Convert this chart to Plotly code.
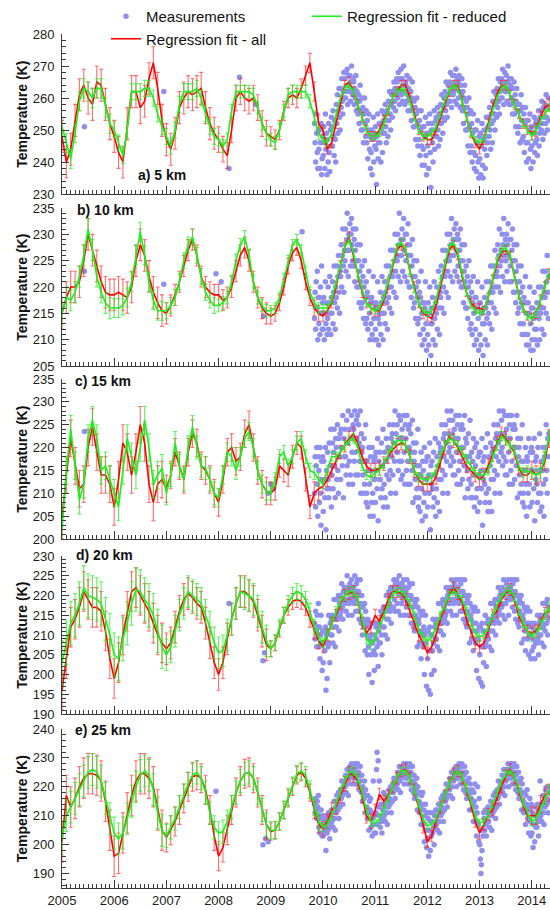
import plotly.graph_objects as go

FONT = "Liberation Sans, Arial, sans-serif"
MEAS_COLOR = "rgb(143,143,240)"
RED = "rgb(255,0,0)"
RED_ERR = "rgba(255,30,30,0.65)"
GREEN = "rgb(30,240,30)"
GREEN_ERR = "rgba(30,235,30,0.7)"

FIT_START = 2005.0          # first monthly fit value (January 2005)
MEAS_START = 2009 + 10 / 12  # first month of dense measurements (Nov 2009)
X_RANGE = [2005.0, 2014.35]
YEAR_TICKS = list(range(2005, 2015))

# ---------------- panel a) 5 km ----------------
RED_A = [
    [248, 240, 244, 253, 261, 264, 260, 258, 265, 264, 258, 252],
    [248, 243, 240, 252, 262, 262, 257, 259, 266, 271, 263, 253],
    [247, 244, 249, 257, 260, 262, 261, 262, 263, 257, 252, 249],
    [247, 244, 242, 250, 260, 262, 260, 259, 260, 257, 252, 249],
    [248, 247, 250, 256, 260, 261, 260, 263, 267, 271, 262, 252],
    [250, 244, 246, 252, 259, 264, 265, 262, 258, 254, 250, 248],
    [248, 250, 253, 256, 260, 262, 264, 264, 260, 255, 250, 248],
    [247, 247, 250, 254, 258, 262, 264, 264, 259, 254, 249, 246],
    [244, 247, 252, 257, 261, 264, 264, 261, 258, 255, 252, 250],
    [249, 250, 254, 257, 258],
]
GREEN_A = [
    [251, 246, 241, 249, 259, 263, 262, 260, 263, 263, 257, 252],
    [250, 246, 242, 250, 262, 262, 262, 263, 263, 260, 255, 251],
    [248, 245, 250, 258, 262, 262, 262, 263, 260, 255, 251, 248],
    [247, 245, 247, 256, 262, 262, 262, 262, 261, 257, 252, 249],
    [247, 246, 250, 256, 261, 262, 262, 262, 262, 259, 254, 249],
    [247, 246, 249, 255, 260, 263, 264, 262, 258, 254, 250, 248],
    [248, 249, 252, 256, 260, 262, 263, 262, 259, 254, 250, 248],
    [248, 249, 251, 255, 259, 262, 264, 263, 259, 254, 249, 247],
    [246, 247, 251, 256, 260, 263, 264, 261, 258, 255, 252, 250],
    [248, 250, 253, 255, 257],
]
RED_ERR_A = [5, 5, 5, 4, 3, 1.5, 1.5, 1.5, 1.5, 2]
GREEN_ERR_A = [3, 2.5, 2.5, 2, 2, 1, 1, 1, 1, 1.2]
MEAS_A = [
    "252 246 240 255 249 243 238 250", "244 250 238 246 252 236 241 248",
    "242 251 246 238 255 244 249 236", "247 240 252 243 237 250 245 254",
    "251 245 256 248 242 253 247 240", "258 252 261 249 256 263 254 250",
    "263 257 266 259 255 262 268 260", "266 260 268 262 269 258 264 267",
    "262 267 259 265 270 263 261 266", "265 258 263 260 267 256 262 259",
    "255 261 252 259 264 256 250 260", "250 257 246 255 260 252 248 256",
    "246 253 241 250 255 244 248 238", "243 250 236 247 254 240 249 245",
    "251 244 233 248 255 241 246 252", "246 252 240 250 256 243 249 253",
    "255 249 258 251 246 256 253 248", "259 253 262 255 250 258 261 254",
    "262 257 265 259 263 256 261 266", "265 260 268 263 258 266 262 269",
    "261 266 259 264 270 262 258 265", "264 259 267 261 256 263 260 266",
    "256 262 253 260 265 257 251 259", "251 257 247 255 260 252 245 256",
    "247 253 242 250 256 245 239 251", "244 251 239 248 254 242 236 249",
    "245 252 238 249 255 243 232 250", "252 246 240 250 256 244 248 253",
    "254 248 257 250 245 255 252 247", "258 252 261 254 249 257 260 253",
    "262 256 265 258 254 261 264 259", "265 259 268 262 257 264 267 261",
    "262 267 259 265 269 263 258 266", "265 260 267 262 257 264 261 266",
    "256 262 252 260 264 257 250 259", "250 257 245 255 260 251 243 256",
    "245 252 240 249 255 243 238 250", "242 250 237 246 253 240 235 248",
    "241 249 236 245 252 239 235 247", "250 244 238 248 254 242 246 251",
    "254 248 257 250 244 255 252 246", "259 253 262 255 250 258 261 254",
    "263 257 266 259 255 262 265 260", "266 260 269 263 258 265 268 262",
    "262 267 259 265 270 263 258 266", "264 258 266 260 255 263 259 265",
    "255 261 251 259 263 256 249 258", "251 258 246 256 261 253 247 257",
    "248 255 243 252 257 246 240 253", "246 253 241 250 255 244 238 251",
    "245 251 240 249 254 243 246 252", "253 247 242 251 256 245 249 254",
    "256 250 259 252 247 257 254 249", "258 252 261 254 250 257 260 253",
]
EARLY_X_A = [2005.43, 2006.95, 2008.20, 2008.40, 2008.72]
EARLY_Y_A = [251, 262, 238, 266.5, 258]

# ---------------- panel b) 10 km ----------------
RED_B = [
    [215, 218, 220, 220, 221, 225, 230, 227, 224, 221, 219, 218.5],
    [218.5, 219, 218.5, 218, 220, 225, 228, 226, 222, 219, 217, 215.5],
    [215, 216.5, 218.5, 221, 224, 227, 229, 226, 222, 220, 219, 218.5],
    [218.5, 217.5, 218, 220, 223, 226, 227.5, 225, 221, 218, 216, 215],
    [214.5, 215, 217, 220, 224, 226.5, 227.5, 225, 221, 218, 216, 215],
    [214.5, 215.5, 217, 220, 224, 227.5, 229.5, 226, 222, 219, 217, 216],
    [215.5, 215.5, 217.5, 220.5, 224, 227, 228, 227, 223, 220, 217, 215],
    [214.5, 214, 216.5, 220, 224, 227, 228, 226, 222, 219, 217, 216],
    [216, 215.5, 218, 221.5, 224.5, 226.5, 227, 226, 222, 218.5, 216, 214.5],
    [214, 215, 217.5, 220, 222.5],
]
GREEN_B = [
    [215, 218, 217.5, 219, 222, 226, 231, 227, 222, 219, 217, 216],
    [216, 216, 216.5, 218, 221, 226, 230.5, 226, 221, 217.5, 215.5, 215.5],
    [215.5, 216.5, 218, 221, 225, 228, 229.5, 226, 222, 219, 217.5, 216.5],
    [216.5, 217, 218, 221, 225, 228, 229.5, 226, 221, 218, 216.5, 215.5],
    [215.5, 216, 218, 221.5, 225, 228, 229, 227, 223, 219, 217, 216],
    [216, 216, 217.5, 220.5, 224, 227.5, 229, 226.5, 222.5, 219.5, 217, 216],
    [215.5, 216, 218, 221, 224.5, 227.5, 228.5, 227, 223, 219.5, 217, 215.5],
    [215, 215.5, 217.5, 221, 224.5, 227.5, 228.5, 226.5, 222.5, 219, 216.5, 215.5],
    [215, 215.5, 218, 221.5, 225, 227, 227.5, 226, 222, 218.5, 216, 214.5],
    [214, 215, 217.5, 220, 222.5],
]
RED_ERR_B = [3, 3, 2, 2, 1.5, 1, 1, 0.8, 0.8, 1]
GREEN_ERR_B = [2, 1.8, 1.5, 1.2, 1, 0.7, 0.6, 0.6, 0.6, 0.8]
MEAS_B = [
    "214 219 212 221 216 223 210 218", "213 218 211 220 215 224 212 217",
    "212 218 210 215 221 213 217 211", "214 220 212 217 222 215 211 218",
    "215 221 213 219 224 217 212 220", "218 224 216 222 226 219 215 223",
    "222 228 220 226 231 224 219 227", "225 231 223 229 234 227 222 230",
    "227 232 224 230 233 228 225 231", "224 229 221 227 231 225 220 228",
    "220 225 217 223 228 221 216 224", "217 222 214 220 225 218 213 221",
    "214 219 212 218 223 215 210 217", "213 218 211 217 222 214 210 216",
    "212 217 210 216 221 214 209 215", "213 219 211 217 222 215 210 218",
    "215 221 213 219 224 217 212 220", "218 224 216 222 227 220 215 223",
    "222 227 219 225 230 223 218 226", "225 230 222 228 234 226 221 229",
    "226 231 223 229 233 227 222 230", "225 230 221 228 232 226 220 228",
    "220 226 218 224 229 222 216 225", "217 222 214 220 225 218 213 221",
    "214 219 211 218 223 215 209 217", "212 217 210 216 221 213 208 215",
    "211 217 209 215 220 213 207 216", "213 218 210 216 221 214 209 217",
    "215 220 212 218 223 216 211 219", "218 224 216 222 227 220 215 223",
    "222 227 219 225 230 223 218 226", "225 230 222 228 233 226 221 229",
    "226 231 223 229 232 227 222 230", "224 229 221 227 231 225 220 228",
    "220 225 217 223 228 221 216 224", "216 222 214 220 225 218 212 221",
    "213 219 211 217 222 215 209 218", "212 218 210 216 221 214 208 217",
    "211 217 209 215 220 213 207 216", "213 218 210 216 221 214 209 217",
    "215 221 213 219 224 217 212 220", "219 224 216 222 227 220 215 223",
    "222 228 220 226 231 224 219 227", "225 230 222 228 233 226 221 229",
    "225 230 223 228 232 226 221 229", "224 229 221 227 231 225 219 228",
    "219 225 217 223 228 221 215 224", "216 221 213 219 224 217 211 220",
    "213 218 211 217 222 215 209 217", "211 217 209 215 220 213 208 216",
    "210 216 208 214 219 212 210 215", "212 217 209 215 220 214 210 216",
    "215 220 212 218 223 216 211 219", "218 223 215 221 226 219 214 222",
]
EARLY_X_B = [2005.43, 2006.95, 2007.95, 2008.05, 2008.86, 2009.60]
EARLY_Y_B = [223, 220.5, 222.5, 221, 214.5, 230.5]

# ---------------- panel c) 15 km ----------------
RED_C = [
    [204, 214, 222, 216, 211, 212, 220, 224.5, 219, 214, 214, 212],
    [207, 213, 221, 219, 214, 219, 225, 221, 212, 208, 212, 213],
    [211, 214, 219, 216, 213, 219, 223, 221, 216, 215, 213, 210],
    [208, 213, 219, 220, 217, 218, 223, 225, 220, 215, 212, 210.5],
    [210, 211, 216, 215, 214, 218, 221, 220, 213, 207, 210, 211],
    [211.5, 213, 215, 217, 219, 220.5, 222, 223, 221, 218, 216, 215],
    [215, 215.5, 216.5, 218, 219.5, 220.5, 221, 220.5, 218, 215, 213, 212],
    [212, 212, 213.5, 217, 220, 222.5, 221.5, 220, 218, 216, 215, 214],
    [213, 214, 216, 218.5, 221, 223, 222, 220.5, 219, 215.5, 214, 214],
    [215, 214, 214.5, 217, 222],
]
GREEN_C = [
    [202, 215, 224, 216, 208.5, 212, 222, 226, 222, 215, 216, 213],
    [210, 207, 215, 222, 218, 214, 220, 226, 220, 212, 214, 215.5],
    [210, 214, 221, 216, 213, 220, 224.5, 220, 216, 215.5, 213, 210],
    [209, 214, 219, 218, 215, 218, 222, 223.5, 220, 215, 212, 210.5],
    [210, 213, 218, 219, 216, 218, 221, 222, 218, 215, 214.5, 213],
    [212, 215, 218, 218, 219, 220.5, 221.5, 222, 220, 216, 214, 213.5],
    [214.5, 215, 216.5, 218.5, 220.5, 221.5, 221.5, 220.5, 218, 215, 213.5, 213],
    [213, 213.5, 215, 218, 220.5, 222, 221.5, 220.5, 219, 217.5, 216, 214.5],
    [214, 214, 215, 218, 220.5, 222.5, 221.5, 220.5, 219.5, 216, 214.5, 215],
    [214.5, 214, 214.5, 218, 222.5],
]
RED_ERR_C = [4, 4, 3, 3, 2.5, 1.5, 1.5, 1.5, 1.5, 2]
GREEN_ERR_C = [3, 3, 2.5, 2, 1.5, 1, 1, 1, 1, 1.2]
MEAS_C = [
    "210 218 207 216 220 212 205 218", "215 208 220 210 203 217 213 218",
    "206 217 213 209 220 202 215 211", "219 213 209 221 211 216 224 207",
    "214 221 211 219 224 216 209 222", "220 213 225 215 210 222 218 223",
    "213 224 220 216 227 209 222 218", "224 218 214 226 216 221 228 212",
    "217 224 214 222 227 219 212 225", "224 217 228 219 214 226 222 227",
    "214 225 221 217 228 210 223 219", "220 214 210 222 212 217 225 208",
    "210 217 207 215 220 212 205 218", "215 208 220 210 205 217 213 218",
    "208 219 215 211 222 204 217 213", "219 213 209 221 211 216 224 207",
    "212 219 209 217 222 214 207 220", "220 213 225 215 210 222 218 223",
    "214 225 221 217 228 210 223 219", "225 219 215 227 217 222 226 213",
    "217 224 214 222 227 219 212 225", "222 215 227 217 212 224 220 225",
    "212 223 219 215 226 208 221 217", "219 213 209 221 211 216 224 207",
    "209 216 206 214 219 211 204 217", "215 208 220 210 205 217 213 218",
    "207 218 214 210 221 202 216 212", "217 211 207 219 209 214 222 205",
    "211 218 208 216 221 213 206 219", "220 213 225 215 210 222 218 223",
    "214 225 221 217 228 210 223 219", "226 220 216 228 218 223 226 214",
    "217 224 214 222 227 219 212 225", "222 215 227 217 212 224 220 225",
    "213 224 220 216 227 209 222 218", "221 215 211 223 213 218 226 209",
    "212 219 209 217 222 214 207 220", "216 209 221 211 206 218 214 219",
    "208 219 215 211 222 203 217 213", "218 212 208 220 210 215 223 206",
    "211 218 208 216 221 213 206 219", "220 213 225 215 210 222 218 223",
    "214 225 221 217 228 210 223 219", "226 220 216 228 218 223 227 214",
    "217 224 214 222 227 219 212 225", "222 215 227 217 212 224 220 225",
    "213 224 220 216 227 209 222 218", "220 214 210 222 212 217 225 208",
    "210 217 207 215 220 212 205 218", "217 210 222 212 207 219 215 220",
    "208 219 215 211 222 204 217 213", "218 212 208 220 210 215 223 206",
    "210 217 207 215 220 212 205 218", "220 213 225 215 210 222 218 223",
]
EARLY_X_C = [2005.43, 2008.95, 2009.00, 2009.05]
EARLY_Y_C = [223.5, 210, 212, 211]

# ---------------- panel d) 20 km ----------------
RED_D = [
    [196, 204, 212, 214, 217, 221, 219, 217, 217, 216, 211, 204],
    [199, 203, 210, 216, 221, 222, 220, 218, 216, 213, 210, 208],
    [206.5, 208, 212, 216, 219, 220.5, 219.5, 218, 217, 213, 208, 203],
    [200, 203, 209, 214, 218, 221, 221, 220, 218.5, 215, 211, 207.5],
    [206.5, 208, 211.5, 215, 217, 218.5, 219, 218.5, 217, 214, 211, 208.5],
    [207, 210, 213, 215, 218, 220, 220.5, 221, 219, 213, 210.5, 212],
    [215, 213.5, 216, 219, 221, 221, 220.5, 219, 216, 213, 210, 208],
    [205.5, 207, 210, 214, 217, 220, 222, 220.5, 218, 214, 211, 208],
    [207, 208, 211, 215, 216, 219, 220.5, 221.5, 219, 215, 212.5, 211],
    [210.5, 211, 213, 215.5, 216],
]
GREEN_D = [
    [203, 208, 213, 215, 218, 222, 220, 219.5, 219, 218, 214, 210],
    [205, 204, 209, 213, 218, 221.5, 221, 219, 217.5, 215, 211, 207],
    [205, 207, 211, 215, 218, 221, 220, 219, 218, 215, 212, 208],
    [205.5, 206, 210, 214, 218, 221, 220.5, 220, 219, 216, 212, 208.5],
    [206.5, 208, 212, 215, 218, 220, 221, 220.5, 219, 216, 212, 209.5],
    [208, 210, 213, 216, 218.5, 220, 221, 221, 219, 214, 209, 207.5],
    [209.5, 212, 215, 218, 220.5, 221, 221, 220, 218, 215, 211.5, 209.5],
    [208.5, 209.5, 212, 215, 217.5, 220, 221, 220.5, 219, 216, 213, 210.5],
    [209.5, 210, 212, 215, 217.5, 219.5, 221, 221.5, 219.5, 216, 213, 211],
    [209.5, 210.5, 212.5, 215, 217],
]
RED_ERR_D = [5, 5, 4, 4, 2, 1.5, 1.5, 1.5, 1.5, 1.5]
GREEN_ERR_D = [5.5, 5.5, 4, 4, 2, 1.2, 1, 1, 1, 1.2]
MEAS_D = [
    "213 209 216 211 207 215 212 218", "207 212 204 210 215 208 201 211",
    "203 211 208 206 212 196 210 199", "211 207 215 208 203 213 210 214",
    "210 215 208 214 219 212 207 215", "212 219 216 214 220 211 218 215",
    "220 216 223 217 214 221 219 222", "218 222 216 221 225 219 215 222",
    "218 223 221 219 224 215 222 220", "222 218 225 219 216 223 221 224",
    "216 221 214 220 224 218 213 220", "210 217 214 212 218 206 216 213",
    "210 205 214 207 200 212 209 213", "205 210 198 208 213 206 201 210",
    "205 212 209 207 213 202 211 208", "213 208 216 210 205 215 212 217",
    "212 217 210 216 220 214 209 217", "214 221 218 216 222 213 220 217",
    "222 217 224 219 216 223 221 224", "218 223 216 222 225 220 215 223",
    "218 223 221 219 224 215 222 220", "221 217 224 218 215 222 220 223",
    "215 220 213 219 223 217 212 219", "211 218 215 213 219 207 217 214",
    "213 208 216 210 204 215 211 216", "207 212 200 210 215 208 197 211",
    "204 211 196 206 212 195 210 200", "210 206 214 208 201 212 209 213",
    "209 214 207 213 218 211 206 214", "211 218 215 213 219 210 217 214",
    "219 215 222 216 213 220 218 221", "218 222 216 221 224 219 215 222",
    "218 223 221 219 224 215 222 220", "222 218 224 219 216 223 221 224",
    "216 221 214 220 224 218 213 220", "212 219 216 214 220 208 218 215",
    "214 209 217 211 206 216 213 217", "208 213 201 211 216 209 199 212",
    "205 212 198 207 213 197 211 203", "211 207 215 208 202 213 210 214",
    "209 214 207 213 218 211 206 214", "211 218 215 213 219 210 217 214",
    "219 215 222 216 213 220 218 221", "217 222 215 220 224 218 214 221",
    "218 223 221 219 224 215 222 220", "222 219 224 220 217 223 221 224",
    "216 221 214 220 224 218 213 220", "212 219 216 214 220 208 218 215",
    "214 209 217 211 206 216 213 217", "209 213 205 212 216 210 204 213",
    "206 212 209 207 213 204 211 208", "211 208 215 209 205 213 210 214",
    "210 215 208 213 218 212 207 215", "211 218 215 213 219 210 217 214",
]
EARLY_X_D = [2008.20, 2008.85, 2008.88]
EARLY_Y_D = [218, 203.5, 205.5]

# ---------------- panel e) 25 km ----------------
RED_E = [
    [201, 217, 213, 216, 220, 223, 224.5, 224.5, 224, 222, 215, 205],
    [196, 197, 204, 211, 217, 222, 224.5, 224.5, 223, 220, 212, 205],
    [202.5, 205, 208, 212, 216, 220, 223.5, 224, 223, 219, 212, 203],
    [196, 199, 205, 212, 218, 222, 224.5, 225, 223, 218, 212, 207],
    [204.5, 205, 208, 212, 216, 220, 224, 225, 223, 218, 212, 207],
    [205.5, 208, 212, 213, 217, 221, 224.5, 224, 222, 217, 210, 208],
    [212, 217.5, 215, 217, 220, 223, 225.5, 226, 223, 219, 213, 206],
    [201, 203, 208, 213, 217, 221, 224.5, 225.5, 223, 219, 214, 208],
    [204, 207, 210.5, 212, 216, 220, 224, 226, 223, 219, 214, 210],
    [210, 210, 214, 217, 218],
]
GREEN_E = [
    [202, 210, 213, 216, 219, 222, 225, 226, 225, 222, 216, 209],
    [204, 202, 204, 209, 215, 220, 224, 225.5, 224, 219, 211, 205],
    [203, 206, 209, 213, 217, 221, 224, 225, 223, 218, 211, 206],
    [204, 204.5, 208, 213, 218, 222, 224.5, 225, 223, 218, 212, 207],
    [205, 205, 208, 212, 216.5, 220.5, 224.5, 225.5, 224, 219, 213, 208],
    [206, 207, 210, 214, 218, 222, 225, 225.5, 223, 218, 212, 208],
    [207.5, 209, 212, 216, 220, 223, 225.5, 225.5, 223, 219, 214, 209],
    [206.5, 207, 209, 213, 217, 221, 224, 225.5, 223.5, 219.5, 215, 210],
    [207.5, 208, 210.5, 214, 218, 221.5, 224.5, 225.5, 223.5, 219.5, 214.5, 211],
    [208, 209, 212, 215.5, 219],
]
RED_ERR_E = [7, 7, 5, 5, 3, 2.5, 2, 2, 2, 3]
GREEN_ERR_E = [5.5, 5.5, 4, 4, 3, 1.5, 1.2, 1.2, 1.2, 1.5]
MEAS_E = [
    "214 211 216 212 209 215 213 217", "206 210 204 209 212 207 203 210",
    "203 209 206 205 210 198 208 204", "208 205 211 206 202 210 207 212",
    "208 212 206 211 215 209 205 213", "211 217 214 212 218 209 216 213",
    "219 216 222 217 214 220 218 221", "220 224 218 223 226 221 217 224",
    "223 227 225 224 228 221 226 224", "226 223 228 225 221 227 225 228",
    "221 225 219 224 227 222 218 224", "215 220 218 216 222 211 219 217",
    "213 209 217 211 205 215 212 216", "206 211 203 209 222 207 204 210",
    "204 211 226 232 207 229 213 222", "210 206 214 208 204 212 209 218",
    "210 214 208 213 217 211 207 215", "213 219 216 214 220 211 218 215",
    "221 218 223 219 216 222 220 223", "221 225 219 224 227 222 218 225",
    "223 227 225 224 228 221 226 225", "226 223 228 225 221 227 225 228",
    "221 225 219 224 227 222 218 224", "216 221 219 217 223 212 220 218",
    "215 211 218 213 207 217 214 218", "207 212 201 210 214 205 199 211",
    "202 209 196 205 211 198 208 203", "208 204 211 206 200 210 207 212",
    "207 212 205 210 214 208 204 212", "210 216 213 211 217 208 215 212",
    "218 215 221 216 213 219 217 220", "219 223 217 222 225 220 216 223",
    "222 226 224 223 227 220 225 223", "226 223 228 225 221 227 225 228",
    "221 225 219 224 227 222 218 225", "216 222 219 217 223 212 221 218",
    "216 212 219 214 208 218 215 221", "208 213 203 211 220 207 201 216",
    "200 195 190 193 198 205 203 211", "209 205 212 207 203 211 208 213",
    "208 213 206 211 215 210 205 213", "211 217 214 212 218 209 216 213",
    "219 216 222 217 214 220 218 221", "219 224 218 222 226 220 217 224",
    "222 226 224 223 228 220 225 224", "226 223 228 225 221 227 225 228",
    "221 225 219 224 227 222 218 225", "216 222 219 217 223 212 221 218",
    "215 211 218 213 207 217 214 219", "209 213 204 212 216 208 203 214",
    "204 211 199 207 213 201 210 206", "210 206 214 208 203 212 209 222",
    "210 214 208 213 217 211 207 215", "213 219 216 214 220 211 218 215",
]
EARLY_X_E = [2007.95, 2008.85, 2008.90, 2008.95]
EARLY_Y_E = [218.5, 200, 202, 201]

PANELS = [
    dict(label="a) 5 km", red=RED_A, green=GREEN_A, rerr=RED_ERR_A, gerr=GREEN_ERR_A,
         meas=MEAS_A, ex=EARLY_X_A, ey=EARLY_Y_A, yr=[230, 280], t0=230, dt=10, mdt=2,
         top=34, bot=194, lab_x=136, lab_y=175),
    dict(label="b) 10 km", red=RED_B, green=GREEN_B, rerr=RED_ERR_B, gerr=GREEN_ERR_B,
         meas=MEAS_B, ex=EARLY_X_B, ey=EARLY_Y_B, yr=[205, 235], t0=205, dt=5, mdt=1,
         top=208, bot=366, lab_x=75, lab_y=210),
    dict(label="c) 15 km", red=RED_C, green=GREEN_C, rerr=RED_ERR_C, gerr=GREEN_ERR_C,
         meas=MEAS_C, ex=EARLY_X_C, ey=EARLY_Y_C, yr=[200, 235], t0=200, dt=5, mdt=1,
         top=379, bot=539, lab_x=73, lab_y=381),
    dict(label="d) 20 km", red=RED_D, green=GREEN_D, rerr=RED_ERR_D, gerr=GREEN_ERR_D,
         meas=MEAS_D, ex=EARLY_X_D, ey=EARLY_Y_D, yr=[190, 230], t0=190, dt=5, mdt=1,
         top=556, bot=714, lab_x=74, lab_y=555),
    dict(label="e) 25 km", red=RED_E, green=GREEN_E, rerr=RED_ERR_E, gerr=GREEN_ERR_E,
         meas=MEAS_E, ex=EARLY_X_E, ey=EARLY_Y_E, yr=[185, 240], t0=190, dt=10, mdt=2,
         top=729, bot=888, lab_x=73, lab_y=730),
]

W, H = 550, 910
X0 = 62 / W
AXC = "#3a3a3a"


def flat(rows):
    out = []
    for r in rows:
        out.extend(r)
    return out


fig = go.Figure()
layout = dict(
    width=W, height=H, margin=dict(l=0, r=0, t=0, b=0, pad=0, autoexpand=False),
    paper_bgcolor="white", plot_bgcolor="white",
    font=dict(family=FONT, size=13, color="#1a1a1a"),
    showlegend=True,
    legend=dict(orientation="h", x=106 / W, xanchor="left", y=1.0, yanchor="top",
                entrywidth=156, entrywidthmode="pixels", bgcolor="rgba(0,0,0,0)",
                font=dict(size=15, family=FONT, color="#111"),
                traceorder="normal", tracegroupgap=0),
    annotations=[],
)

for k, p in enumerate(PANELS, start=1):
    xn = "x" if k == 1 else f"x{k}"
    yn = "y" if k == 1 else f"y{k}"
    xk = "xaxis" if k == 1 else f"xaxis{k}"
    yk = "yaxis" if k == 1 else f"yaxis{k}"

    # measurements
    mx, my = [], []
    for i, s in enumerate(p["meas"]):
        vals = [float(v) for v in s.split()]
        n = len(vals)
        ms = MEAS_START + i / 12
        for j, v in enumerate(vals):
            mx.append(ms + (j + 0.5) / (n * 12))
            my.append(v)
    mx = list(p["ex"]) + mx
    my = list(p["ey"]) + my
    fig.add_trace(go.Scatter(
        x=mx, y=my, mode="markers", name="Measurements", legendrank=1,
        marker=dict(size=5.5, color=MEAS_COLOR, line=dict(width=0)),
        showlegend=(k == 1), xaxis=xn, yaxis=yn))

    red = flat(p["red"])
    rx = [FIT_START + i / 12 for i in range(len(red))]
    rerr = [p["rerr"][i // 12] for i in range(len(red))]
    fig.add_trace(go.Scatter(
        x=rx, y=red, mode="lines", name="Regression fit - all", legendrank=3,
        line=dict(color=RED, width=1.6),
        error_y=dict(type="data", array=rerr, visible=True, color=RED_ERR,
                     thickness=1.1, width=2),
        showlegend=(k == 1), xaxis=xn, yaxis=yn))

    green = flat(p["green"])
    gx = [FIT_START + i / 12 for i in range(len(green))]
    gerr = [p["gerr"][i // 12] for i in range(len(green))]
    fig.add_trace(go.Scatter(
        x=gx, y=green, mode="lines", name="Regression fit - reduced", legendrank=2,
        line=dict(color=GREEN, width=1.6),
        error_y=dict(type="data", array=gerr, visible=True, color=GREEN_ERR,
                     thickness=1.1, width=2),
        showlegend=(k == 1), xaxis=xn, yaxis=yn))

    y0 = 1 - p["bot"] / H
    y1 = 1 - p["top"] / H
    layout[xk] = dict(
        domain=[X0, 1], range=X_RANGE, anchor=yn, automargin=False,
        showline=True, linecolor=AXC, linewidth=1, mirror=False,
        ticks="inside", ticklen=8, tickwidth=1, tickcolor=AXC,
        tickmode="array", tickvals=YEAR_TICKS, ticktext=[str(v) for v in YEAR_TICKS],
        showticklabels=(k == 5), tickfont=dict(size=13, family=FONT, color="#1a1a1a"),
        showgrid=False, zeroline=False,
        minor=dict(ticks="inside", ticklen=4, tickwidth=1, tickcolor=AXC,
                   tick0=2005, dtick=1 / 12, showgrid=False),
    )
    lo, hi = p["yr"]
    layout[yk] = dict(
        domain=[y0, y1], range=[lo - 0.001, hi + 0.001], anchor=xn, automargin=False,
        showline=True, linecolor=AXC, linewidth=1,
        ticks="inside", ticklen=7, tickwidth=1, tickcolor=AXC,
        tick0=p["t0"], dtick=p["dt"], ticklabelstandoff=4,
        tickfont=dict(size=13, family=FONT, color="#1a1a1a"),
        showgrid=False, zeroline=False,
        minor=dict(ticks="inside", ticklen=4, tickwidth=1, tickcolor=AXC,
                   tick0=p["t0"], dtick=p["mdt"], showgrid=False),
    )
    layout["annotations"].append(dict(
        text="<b>Temperature (K)</b>", xref="paper", yref="paper",
        x=21.7 / W, y=(y0 + y1) / 2, textangle=-90, showarrow=False,
        xanchor="center", yanchor="middle",
        font=dict(size=14, family=FONT, color="#111")))
    layout["annotations"].append(dict(
        text=f"<b>{p['label']}</b>", xref="paper", yref="paper",
        x=p["lab_x"] / W, y=1 - p["lab_y"] / H, showarrow=False,
        xanchor="left", yanchor="middle",
        font=dict(size=14, family=FONT, color="#111")))

fig.update_layout(**layout)
fig.write_html(
    "out.html",
    config={"displayModeBar": False},
    post_script="document.body.style.margin='0';document.body.style.overflow='hidden';",
)
